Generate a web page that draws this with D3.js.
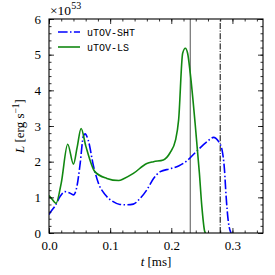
<!DOCTYPE html>
<html>
<head>
<meta charset="utf-8">
<script src="https://cdn.jsdelivr.net/npm/d3@7/dist/d3.min.js"></script>
<style>
  body { margin: 0; background: #fff; }
  text { font-family: "Liberation Serif", "DejaVu Serif", serif; }
  .mono { font-family: "Liberation Mono", "DejaVu Sans Mono", monospace; }
</style>
</head>
<body>
<div id="chart"></div>
<script>
"use strict";

var width = 275, height = 275;
var margin = {top: 19, right: 12, bottom: 42, left: 49};

// time in ms, luminosity in units of 1e53 erg/s
var shtT = [0.0, 0.003, 0.010, 0.018, 0.026, 0.033, 0.040, 0.045, 0.051, 0.056, 0.059, 0.064,
    0.073, 0.081, 0.092, 0.105, 0.116, 0.128, 0.138, 0.149, 0.160, 0.171, 0.182, 0.198,
    0.212, 0.226, 0.239, 0.2585, 0.269, 0.2775, 0.283, 0.287, 0.2897, 0.293, 0.2967, 0.298];
var shtL = [0.52, 0.60, 0.76, 1.02, 1.16, 1.13, 1.07, 1.25, 1.95, 2.70, 2.78, 2.61,
    1.86, 1.39, 1.07, 0.88, 0.80, 0.79, 0.81, 0.97, 1.21, 1.53, 1.72, 1.80,
    1.88, 2.03, 2.25, 2.56, 2.68, 2.56, 2.33, 1.77, 1.02, 0.36, 0.04, 0.0];

var lsT = [0.0, 0.005, 0.0115, 0.020, 0.0306, 0.040, 0.046, 0.0525, 0.060, 0.075, 0.0945,
    0.114, 0.123, 0.138, 0.160, 0.171, 0.187, 0.198, 0.207, 0.212, 0.2186, 0.223, 0.2267,
    0.231, 0.239, 0.246, 0.250, 0.2547, 0.256];
var lsL = [1.05, 0.95, 0.83, 1.40, 2.49, 1.93, 2.40, 2.93, 2.45, 1.72, 1.53,
    1.47, 1.53, 1.67, 1.95, 2.00, 2.05, 2.25, 2.61, 3.17, 5.04, 5.18, 5.04,
    4.48, 3.07, 1.67, 0.74, 0.04, 0.0];

var vlines = [
    {t: 0.231, color: "#555", dash: null},
    {t: 0.280, color: "#000", dash: "6,1.6,1,1.6"}
];

var series = [
    {name: "uTOV-SHT", t: shtT, L: shtL, color: "#0000ff", dash: "9.6,2.4,1.5,2.4"},
    {name: "uTOV-LS", t: lsT, L: lsL, color: "#118811", dash: null}
];

var xTicks = [0.0, 0.1, 0.2, 0.3];
var yTicks = [0, 1, 2, 3, 4, 5, 6];

var x = d3.scaleLinear().domain([0, 0.35]).range([margin.left, width - margin.right]);
var y = d3.scaleLinear().domain([0, 6]).range([height - margin.bottom, margin.top]);

var svg = d3.select("#chart").append("svg")
    .attr("width", width)
    .attr("height", height);

svg.append("defs").append("clipPath").attr("id", "clip")
  .append("rect")
    .attr("x", x(0)).attr("y", y(6))
    .attr("width", x(0.35) - x(0)).attr("height", y(0) - y(6));

var plot = svg.append("g").attr("clip-path", "url(#clip)");

// vertical markers
plot.selectAll(".vline")
    .data(vlines)
    .enter().append("line")
    .attr("x1", d => x(d.t)).attr("x2", d => x(d.t))
    .attr("y1", y(0)).attr("y2", y(6))
    .attr("stroke", d => d.color)
    .attr("stroke-width", 1)
    .attr("stroke-dasharray", d => d.dash);

var line = d3.line()
    .x(d => x(d[0]))
    .y(d => y(d[1]))
    .curve(d3.curveMonotoneX);

plot.selectAll(".series")
    .data(series)
    .enter().append("path")
    .attr("d", d => line(d3.zip(d.t, d.L)))
    .attr("fill", "none")
    .attr("stroke", d => d.color)
    .attr("stroke-width", 1.6)
    .attr("stroke-dasharray", d => d.dash);

// axes with inward ticks on all four sides
function axisGroup(axis, tx, ty) {
    var g = svg.append("g").attr("transform", "translate(" + tx + "," + ty + ")").call(axis);
    g.select(".domain").remove();
    g.selectAll("line").attr("stroke", "#000").attr("stroke-width", 0.8);
    return g;
}

var xMinor = d3.range(0, 0.3501, 0.02);
var yMinor = d3.range(0, 6.001, 0.2);

axisGroup(d3.axisBottom(x).tickValues(xTicks).tickFormat(d3.format(".1f")).tickSizeInner(-5).tickPadding(8), 0, y(0));
axisGroup(d3.axisBottom(x).tickValues(xMinor).tickFormat("").tickSizeInner(-2.5).tickSizeOuter(0), 0, y(0));
axisGroup(d3.axisTop(x).tickValues(xTicks).tickFormat("").tickSizeInner(-5).tickSizeOuter(0), 0, y(6));
axisGroup(d3.axisTop(x).tickValues(xMinor).tickFormat("").tickSizeInner(-2.5).tickSizeOuter(0), 0, y(6));

axisGroup(d3.axisLeft(y).tickValues(yTicks).tickFormat(d3.format("d")).tickSizeInner(-5).tickPadding(8), x(0), 0);
axisGroup(d3.axisLeft(y).tickValues(yMinor).tickFormat("").tickSizeInner(-2.5).tickSizeOuter(0), x(0), 0);
axisGroup(d3.axisRight(y).tickValues(yTicks).tickFormat("").tickSizeInner(-5).tickSizeOuter(0), x(0.35), 0);
axisGroup(d3.axisRight(y).tickValues(yMinor).tickFormat("").tickSizeInner(-2.5).tickSizeOuter(0), x(0.35), 0);

svg.selectAll(".tick text")
    .attr("font-size", 13)
    .attr("fill", "#000");

svg.append("rect")
    .attr("x", x(0)).attr("y", y(6))
    .attr("width", x(0.35) - x(0)).attr("height", y(0) - y(6))
    .attr("fill", "none").attr("stroke", "#000").attr("stroke-width", 1.1);

// exponent
svg.append("text")
    .attr("x", x(0) + 1).attr("y", y(6) - 4)
    .attr("font-size", 13.5)
    .html("×10<tspan dy='-6' font-size='10'>53</tspan>");

// axis labels
svg.append("text")
    .attr("x", (x(0) + x(0.35)) / 2).attr("y", height - 9)
    .attr("text-anchor", "middle")
    .attr("font-size", 13)
    .html("<tspan font-style='italic'>t</tspan> [ms]");

svg.append("text")
    .attr("transform", "translate(24," + ((y(0) + y(6)) / 2) + ") rotate(-90)")
    .attr("text-anchor", "middle")
    .attr("font-size", 13)
    .html("<tspan font-style='italic'>L</tspan> [erg s<tspan dy='-5' font-size='9.5'>−1</tspan><tspan dy='5'>]</tspan>");

// legend
var legend = svg.append("g").attr("transform", "translate(" + (x(0) + 9) + "," + (y(6) + 13) + ")");
var item = legend.selectAll(".item")
    .data(series)
    .enter().append("g")
    .attr("transform", (d, i) => "translate(0," + (i * 15) + ")");
item.append("line")
    .attr("x1", 0).attr("x2", 22)
    .attr("stroke", d => d.color)
    .attr("stroke-width", 1.6)
    .attr("stroke-dasharray", d => d.dash);
item.append("text")
    .attr("class", "mono")
    .attr("x", 29).attr("y", 3.5)
    .attr("font-size", 10)
    .text(d => d.name);
</script>
</body>
</html>
